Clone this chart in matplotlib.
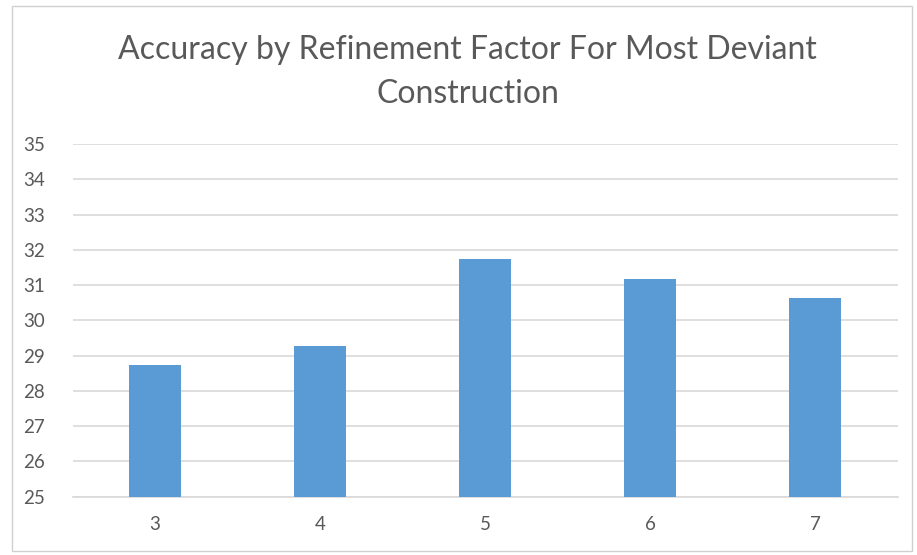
import matplotlib.pyplot as plt
from matplotlib.patches import Rectangle

factors = ['3', '4', '5', '6', '7']
accuracy = [28.73, 29.27, 31.75, 31.16, 30.62]
y_ticks = list(range(25, 36))

plt.rcParams['font.family'] = ['Lato', 'DejaVu Sans']

fig = plt.figure(figsize=(9.17, 5.55), dpi=100)
ax = fig.add_axes([72.5 / 917, 1 - 496.7 / 555, 825 / 917, 352.7 / 555])

ax.bar(range(len(factors)), accuracy, width=0.31, color='#5B9BD5', zorder=3)
ax.set_xlim(-0.5, len(factors) - 0.5)
ax.set_ylim(25, 35)
ax.set_yticks(y_ticks)
ax.set_xticks(range(len(factors)))
ax.set_xticklabels(factors)
ax.yaxis.grid(True, color='#d9d9d9', linewidth=1.2, zorder=0)
ax.tick_params(length=0, labelsize=13.5, colors='#595959')
ax.tick_params(axis='x', pad=14)
ax.tick_params(axis='y', pad=20)
for s in ['top', 'right', 'left']:
    ax.spines[s].set_visible(False)
ax.spines['bottom'].set_color('#d9d9d9')
ax.spines['bottom'].set_linewidth(1.2)

fig.text(0.5 + 9 / 917, 1 - 72 / 555, 'Accuracy by Refinement Factor For Most Deviant\nConstruction',
         ha='center', va='center', fontsize=23, color='#595959', linespacing=1.6)

# chart frame
fig.patches.append(Rectangle((12 / 917, 4 / 555), 900 / 917, 545 / 555, transform=fig.transFigure,
                             fill=False, edgecolor='#d0d0d0', linewidth=1))

fig.savefig('out.png', dpi=100)
